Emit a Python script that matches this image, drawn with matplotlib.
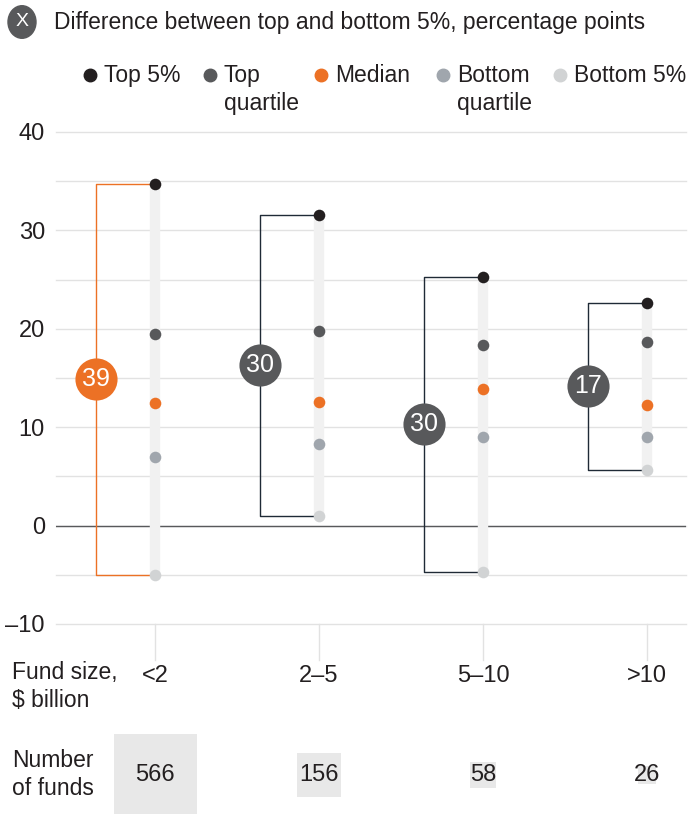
import numpy as np
import matplotlib.pyplot as plt
import matplotlib.transforms as mtransforms

plt.rcParams['font.family'] = ['Liberation Sans', 'DejaVu Sans']

# data
sizes = ['<2', '2\u20135', '5\u201310', '>10']
top5 = [34.7, 31.6, 25.3, 22.6]
top_q = [19.5, 19.8, 18.4, 18.7]
median = [12.5, 12.6, 13.9, 12.3]
bottom_q = [7.0, 8.3, 9.0, 9.0]
bottom5 = [-5.0, 1.0, -4.7, 5.7]
spread = [39, 30, 30, 17]
n_funds = [566, 156, 58, 26]

c_top5 = '#231f20'
c_topq = '#58595b'
c_med = '#ec7125'
c_botq = '#a0a6ad'
c_bot5 = '#d1d3d4'
c_bracket = '#1f2a36'
fs = 17
fs_t = 16.5

fig = plt.figure(figsize=(7, 8.14), dpi=100)
ax = fig.add_axes([56 / 700, (814 - 624) / 814, 630 / 700, 492 / 814])
ax.set_xlim(-0.604, 3.238)
ax.set_ylim(-10, 40)
for s in ax.spines.values():
    s.set_visible(False)
ax.set_xticks([])
ax.set_yticks([-10, 0, 10, 20, 30, 40])
ax.set_yticklabels(['\u201310', '0', '10', '20', '30', '40'], fontsize=fs, color='#231f20')
ax.tick_params(axis='y', length=0, pad=8)

# grid
for g in np.arange(-10, 41, 5):
    ax.axhline(g, color='#e2e2e2', lw=1, zorder=0, clip_on=False)
ax.axhline(0, color='#58595b', lw=1, zorder=1)

x = np.arange(len(sizes))
for i in x:
    ax.plot([i, i], [-10, -13.7], color='#e2e2e2', lw=1, clip_on=False)

# light range bars
ax.vlines(x, bottom5, top5, color='#f1f1f1', lw=7.5, zorder=2)

# brackets and spread circles
off = 0.36
for i in x:
    col = c_med if i == 0 else c_bracket
    bx = i - off
    ax.plot([i - 0.035, bx, bx, i - 0.035], [top5[i], top5[i], bottom5[i], bottom5[i]],
            color=col, lw=1, zorder=3)
    mid = (top5[i] + bottom5[i]) / 2
    ax.scatter(bx, mid, s=920, color=c_med if i == 0 else c_topq, zorder=4, linewidths=0)
    ax.text(bx, mid, str(spread[i]), color='white', fontsize=18, ha='center', va='center', zorder=5)

# points
ms = 70
ax.scatter(x, top5, s=ms, color=c_top5, zorder=5, linewidths=0)
ax.scatter(x, top_q, s=ms, color=c_topq, zorder=5, linewidths=0)
ax.scatter(x, median, s=ms, color=c_med, zorder=5, linewidths=0)
ax.scatter(x, bottom_q, s=ms, color=c_botq, zorder=5, linewidths=0)
ax.scatter(x, bottom5, s=ms, color=c_bot5, zorder=5, linewidths=0)

# bottom rows
blend = mtransforms.blended_transform_factory(ax.transData, fig.transFigure)
for i in x:
    ax.text(i, (814 - 676) / 814, sizes[i], transform=blend, ha='center', va='center',
            fontsize=fs, color='#231f20', clip_on=False)
side = 83 * np.sqrt(np.array(n_funds) / n_funds[0]) * 0.72
ax.scatter(x, [(814 - 775) / 814] * len(x), s=side ** 2, marker='s', color='#e8e8e8',
           transform=blend, clip_on=False, linewidths=0, zorder=1)
for i in x:
    ax.text(i, (814 - 775) / 814, str(n_funds[i]), transform=blend, ha='center', va='center',
            fontsize=fs, color='#231f20', clip_on=False, zorder=2)

fig.text(12 / 700, (814 - 661) / 814, 'Fund size,\n$ billion', fontsize=fs_t, va='top',
         color='#231f20', linespacing=1.3)
fig.text(12 / 700, (814 - 749) / 814, 'Number\nof funds', fontsize=fs_t, va='top',
         color='#231f20', linespacing=1.3)

# title
fig.add_artist(plt.Circle((22 / 700, (814 - 22) / 814), 14 / 700, transform=fig.transFigure,
                          color=c_topq))
fig.text(22 / 700, (814 - 22) / 814, 'X', fontsize=14, color='white', ha='center', va='center')
fig.text(54 / 700, (814 - 22) / 814, 'Difference between top and bottom 5%, percentage points',
         fontsize=fs_t, color='#231f20', va='center')

# legend
leg = [(90, 'Top 5%', c_top5), (210, 'Top\nquartile', c_topq), (321, 'Median', c_med),
       (443, 'Bottom\nquartile', c_botq), (560, 'Bottom 5%', c_bot5)]
for px, lab, col in leg:
    fig.add_artist(plt.Line2D([px / 700], [(814 - 75) / 814], marker='o', ms=9, color=col,
                              transform=fig.transFigure, lw=0))
    fig.text((px + 14) / 700, (814 - 64) / 814, lab, fontsize=fs_t, color='#231f20', va='top',
             linespacing=1.3)

fig.savefig('out.png', dpi=100)
